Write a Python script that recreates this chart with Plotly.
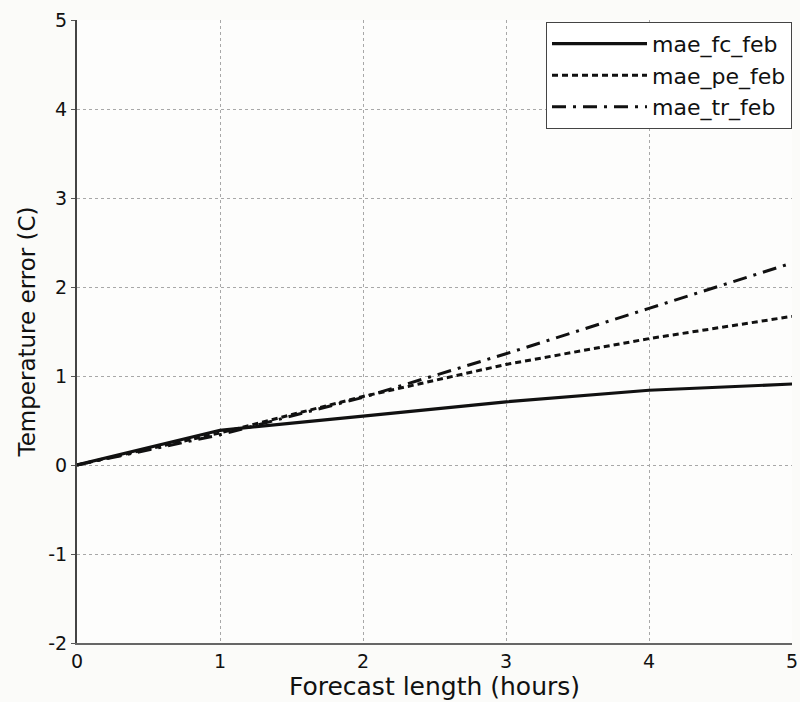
import plotly.graph_objects as go

hours = [0, 1, 2, 3, 4, 5]
y_ticks = [-2, -1, 0, 1, 2, 3, 4, 5]
y_tick_labels = ["-2", "-1", "0", "1", "2", "3", "4", "5"]
mae_fc_feb = [0.0, 0.39, 0.55, 0.71, 0.84, 0.91]
mae_pe_feb = [0.0, 0.36, 0.77, 1.13, 1.42, 1.67]
mae_tr_feb = [0.0, 0.34, 0.76, 1.25, 1.76, 2.27]

series = [
    ("mae_fc_feb", mae_fc_feb, "solid", 3.2),
    ("mae_pe_feb", mae_pe_feb, "6px,4px", 3),
    ("mae_tr_feb", mae_tr_feb, "14px,7px,3px,7px", 3),
]

fig = go.Figure()
for name, vals, dash, w in series:
    fig.add_trace(go.Scatter(
        x=hours, y=vals, mode="lines", name=name,
        line=dict(color="#111111", width=w, dash=dash),
    ))

font_family = "DejaVu Sans, Liberation Sans, Arial, sans-serif"
fig.update_layout(
    width=800, height=702,
    margin=dict(l=77, r=8, t=20, b=59),
    paper_bgcolor="#fbfbf9",
    plot_bgcolor="#fdfdfc",
    font=dict(family=font_family, size=20, color="#111111"),
    showlegend=True,
    legend=dict(
        x=1.0, y=0.997, xanchor="right", yanchor="top",
        bgcolor="#ffffff", bordercolor="#444444", borderwidth=1,
        font=dict(size=22, color="#111111"),
        tracegroupgap=0, itemwidth=95,
    ),
    xaxis=dict(
        range=[0, 5], tickvals=hours, ticks="", showline=True,
        linecolor="#666666", linewidth=2, mirror=False,
        showgrid=True, gridcolor="#a8a8a8", griddash="dot", gridwidth=1,
        zeroline=False, automargin=False, ticklabeloverflow="allow",
        title=dict(text="Forecast length (hours)", font=dict(size=25), standoff=2),
        tickfont=dict(size=19),
    ),
    yaxis=dict(
        range=[-2, 5], tickvals=y_ticks, ticktext=y_tick_labels,
        ticks="outside", ticklen=4, tickcolor="#555555",
        showline=True, linecolor="#444444", linewidth=2,
        showgrid=True, gridcolor="#a8a8a8", griddash="dot", gridwidth=1,
        zeroline=False, automargin=False,
        title=dict(text="Temperature error (C)", font=dict(size=23), standoff=6),
        tickfont=dict(size=19),
    ),
)

fig.write_html(
    "out.html",
    config={"displayModeBar": False},
    post_script="document.body.style.margin='0px';document.body.style.background='#fbfbf9';",
)
